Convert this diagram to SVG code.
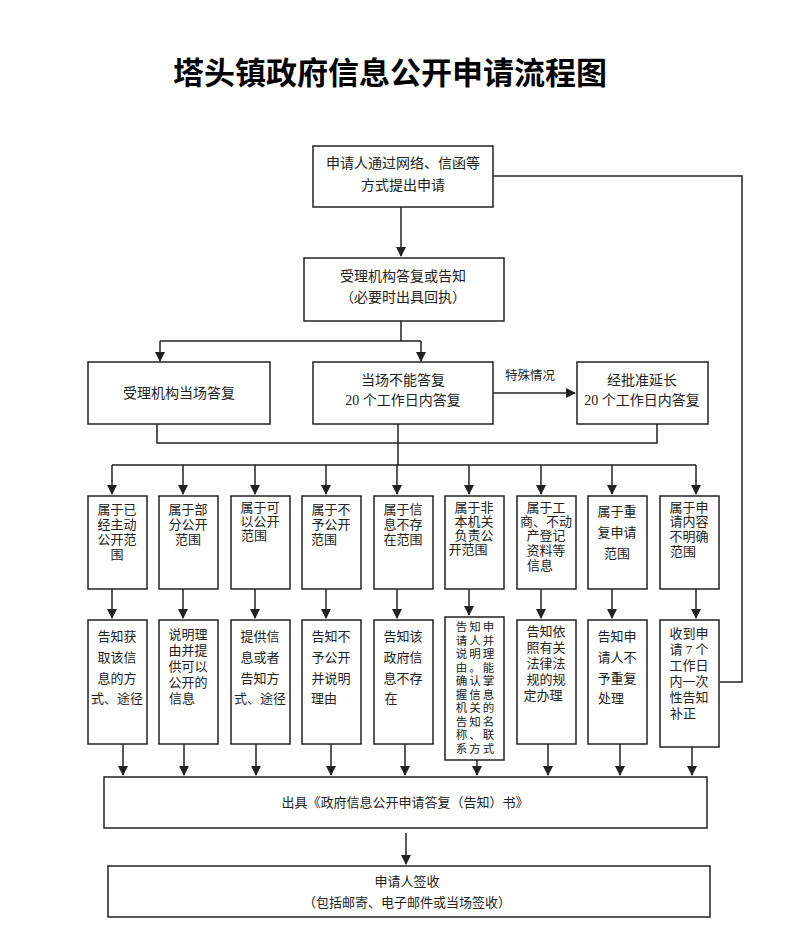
<svg xmlns="http://www.w3.org/2000/svg" width="800" height="930" viewBox="0 0 800 930">
<style>
rect{fill:#fff;stroke:#222;stroke-width:1.5}
text{font-family:"Liberation Serif","Noto Sans CJK SC",serif;font-size:13px;fill:#222;text-anchor:middle}
.t{font-size:31px;font-weight:bold;fill:#000}
.m{font-size:14px}
.s{text-anchor:start;font-size:12.5px}
.k{font-size:11.5px;letter-spacing:2px}
#c path{fill:none;stroke:#222;stroke-width:1.5}
</style>
<defs><marker id="a" markerWidth="10" markerHeight="10" refX="9" refY="5" orient="auto" markerUnits="userSpaceOnUse"><path d="M0,0 L10,5 L0,10 Z" fill="#222"/></marker></defs>
<text class="t" x="390" y="84">塔头镇政府信息公开申请流程图</text>
<g id="c">
<path d="M401,207 V256" marker-end="url(#a)"/>
<path d="M401,321 V341 M160,341 H421" />
<path d="M160,341 V361" marker-end="url(#a)"/>
<path d="M421,341 V361" marker-end="url(#a)"/>
<path d="M493,393 H575" marker-end="url(#a)"/>
<path d="M157,424 V443 H657 V424 M398,424 V465 M112,465 H696"/>
<path d="M493,176 H742 V682 H720"/>
<path d="M112,465 V494" marker-end="url(#a)"/><path d="M183,465 V494" marker-end="url(#a)"/><path d="M255,465 V494" marker-end="url(#a)"/><path d="M326,465 V494" marker-end="url(#a)"/><path d="M397,465 V494" marker-end="url(#a)"/><path d="M469,465 V494" marker-end="url(#a)"/><path d="M541,465 V494" marker-end="url(#a)"/><path d="M612,465 V494" marker-end="url(#a)"/><path d="M696,465 V494" marker-end="url(#a)"/>
<path d="M112,589 V618" marker-end="url(#a)"/><path d="M183,589 V618" marker-end="url(#a)"/><path d="M255,589 V618" marker-end="url(#a)"/><path d="M326,589 V618" marker-end="url(#a)"/><path d="M397,589 V618" marker-end="url(#a)"/><path d="M469,589 V615" marker-end="url(#a)"/><path d="M541,589 V618" marker-end="url(#a)"/><path d="M612,589 V618" marker-end="url(#a)"/><path d="M696,589 V618" marker-end="url(#a)"/>
<path d="M123,744 V775" marker-end="url(#a)"/><path d="M184,744 V775" marker-end="url(#a)"/><path d="M256,744 V775" marker-end="url(#a)"/><path d="M331,744 V775" marker-end="url(#a)"/><path d="M405,744 V775" marker-end="url(#a)"/><path d="M477,760 V775" marker-end="url(#a)"/><path d="M548,744 V775" marker-end="url(#a)"/><path d="M620,744 V775" marker-end="url(#a)"/><path d="M692,747 V775" marker-end="url(#a)"/>
<path d="M406,833 V864" marker-end="url(#a)"/>
</g>
<text class="s" x="505" y="380">特殊情况</text>
<g id="n1"><rect x="313" y="146" width="180" height="61"/><text class="m" x="403" y="168">申请人通过网络、信函等</text><text class="m" x="403" y="190">方式提出申请</text></g>
<g id="n2"><rect x="304" y="258" width="200" height="63"/><text class="m" x="403" y="281">受理机构答复或告知</text><text class="m" x="403" y="302">（必要时出具回执）</text></g>
<g id="n3"><rect x="88" y="362" width="182" height="62"/><text class="m" x="179" y="398">受理机构当场答复</text></g>
<g id="n4"><rect x="313" y="362" width="180" height="62"/><text class="m" x="403" y="385">当场不能答复</text><text class="m" x="403" y="405">20 个工作日内答复</text></g>
<g id="n5"><rect x="577" y="362" width="131" height="62"/><text class="m" x="642" y="385">经批准延长</text><text class="m" x="642" y="405">20 个工作日内答复</text></g>
<g id="u1"><rect x="88" y="496" width="59" height="93"/><text x="117" y="514">属于已</text><text x="117" y="529">经主动</text><text x="117" y="544">公开范</text><text x="117" y="559">围</text></g>
<g id="u2"><rect x="159" y="496" width="59" height="93"/><text x="188" y="514">属于部</text><text x="188" y="529">分公开</text><text x="188" y="544">范围</text></g>
<g id="u3"><rect x="231" y="496" width="59" height="93"/><text x="260" y="512">属于可</text><text x="260" y="526">以公开</text><text x="254" y="540">范围</text></g>
<g id="u4"><rect x="302" y="496" width="59" height="93"/><text x="331" y="514">属于不</text><text x="331" y="529">予公开</text><text x="324" y="544">范围</text></g>
<g id="u5"><rect x="374" y="496" width="59" height="93"/><text x="403" y="514">属于信</text><text x="403" y="529">息不存</text><text x="403" y="544">在范围</text></g>
<g id="u6"><rect x="445" y="496" width="59" height="93"/><text x="474" y="512">属于非</text><text x="474" y="526">本机关</text><text x="474" y="540">负责公</text><text x="468" y="554">开范围</text></g>
<g id="u7"><rect x="517" y="496" width="59" height="93"/><text x="546" y="512">属于工</text><text x="546" y="526">商、不动</text><text x="546" y="540">产登记</text><text x="546" y="555">资料等</text><text x="540" y="570">信息</text></g>
<g id="u8"><rect x="588" y="496" width="59" height="93"/><text x="617" y="516">属于重</text><text x="617" y="537">复申请</text><text x="617" y="558">范围</text></g>
<g id="u9"><rect x="660" y="496" width="59" height="93"/><text x="689" y="512">属于申</text><text x="689" y="526">请内容</text><text x="689" y="541">不明确</text><text x="683" y="556">范围</text></g>
<g id="l1"><rect x="88" y="620" width="59" height="124"/><text x="117" y="641">告知获</text><text x="117" y="662">取该信</text><text x="117" y="683">息的方</text><text x="117" y="703">式、途径</text></g>
<g id="l2"><rect x="159" y="620" width="59" height="124"/><text x="188" y="639">说明理</text><text x="188" y="655">由并提</text><text x="188" y="671">供可以</text><text x="188" y="687">公开的</text><text x="182" y="703">信息</text></g>
<g id="l3"><rect x="231" y="620" width="59" height="124"/><text x="260" y="641">提供信</text><text x="260" y="662">息或者</text><text x="260" y="683">告知方</text><text x="260" y="703">式、途径</text></g>
<g id="l4"><rect x="302" y="620" width="59" height="124"/><text x="331" y="641">告知不</text><text x="331" y="662">予公开</text><text x="331" y="683">并说明</text><text x="324" y="703">理由</text></g>
<g id="l5"><rect x="374" y="620" width="59" height="124"/><text x="403" y="641">告知该</text><text x="403" y="662">政府信</text><text x="403" y="683">息不存</text><text x="391" y="703">在</text></g>
<g id="l6"><rect x="445" y="617" width="59" height="143"/><text class="k" x="476" y="631">告知申</text><text class="k" x="476" y="644.5">请人并</text><text class="k" x="476" y="658">说明理</text><text class="k" x="476" y="671.5">由。能</text><text class="k" x="476" y="685">确认掌</text><text class="k" x="476" y="698.5">握信息</text><text class="k" x="476" y="712">机关的</text><text class="k" x="476" y="725.5">告知名</text><text class="k" x="476" y="739">称、联</text><text class="k" x="476" y="752.5">系方式</text></g>
<g id="l7"><rect x="517" y="620" width="59" height="124"/><text x="546" y="636">告知依</text><text x="546" y="652">照有关</text><text x="546" y="668">法律法</text><text x="546" y="684">规的规</text><text x="543" y="700">定办理</text></g>
<g id="l8"><rect x="588" y="620" width="59" height="124"/><text x="617" y="641">告知申</text><text x="617" y="662">请人不</text><text x="617" y="683">予重复</text><text x="611" y="703">处理</text></g>
<g id="l9"><rect x="660" y="620" width="59" height="127"/><text x="689" y="638">收到申</text><text x="689" y="654">请 7 个</text><text x="689" y="670">工作日</text><text x="689" y="686">内一次</text><text x="689" y="702">性告知</text><text x="683" y="718">补正</text></g>
<g id="b1"><rect x="104" y="777" width="603" height="51"/><text x="405" y="807">出具《政府信息公开申请答复（告知）书》</text></g>
<g id="b2"><rect x="108" y="866" width="602" height="51"/><text x="407" y="886">申请人签收</text><text x="407" y="907">（包括邮寄、电子邮件或当场签收）</text></g>
</svg>
